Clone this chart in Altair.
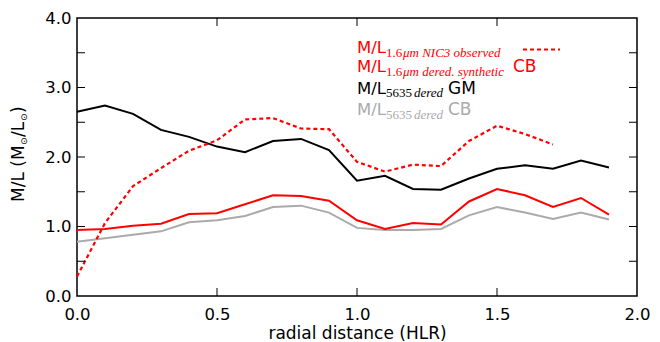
import altair as alt
import pandas as pd

# ---- data ----
radius = [0.0, 0.1, 0.2, 0.3, 0.4, 0.5, 0.6, 0.7, 0.8, 0.9,
          1.0, 1.1, 1.2, 1.3, 1.4, 1.5, 1.6, 1.7, 1.8, 1.9]
ml_5635_gm = [2.65, 2.74, 2.62, 2.39, 2.29, 2.15, 2.07, 2.23, 2.26, 2.10,
              1.66, 1.73, 1.54, 1.53, 1.69, 1.83, 1.88, 1.83, 1.95, 1.85]
ml_16_synth_cb = [0.95, 0.965, 1.01, 1.04, 1.18, 1.19, 1.32, 1.45, 1.44, 1.37,
                  1.09, 0.965, 1.05, 1.03, 1.36, 1.54, 1.45, 1.28, 1.41, 1.17]
ml_5635_cb = [0.78, 0.83, 0.88, 0.93, 1.06, 1.09, 1.15, 1.28, 1.30, 1.20,
              0.98, 0.95, 0.95, 0.965, 1.16, 1.28, 1.20, 1.11, 1.20, 1.10]
radius_nic3 = radius[:18]
ml_nic3_obs = [0.28, 1.05, 1.58, 1.84, 2.09, 2.24, 2.54, 2.56, 2.41, 2.40,
               1.93, 1.79, 1.89, 1.87, 2.23, 2.45, 2.33, 2.18]

x_ticks = [0.0, 0.5, 1.0, 1.5, 2.0]
y_ticks = [0.0, 0.5, 1.0, 1.5, 2.0, 2.5, 3.0, 3.5, 4.0]
x_inner = [0.5, 1.0, 1.5]
y_inner = [0.5, 1.0, 1.5, 2.0, 2.5, 3.0, 3.5]

W, H = 560, 278
FONT = "DejaVu Sans"
SERIF = "Liberation Serif"
RED, BLACK, GRAY = "#ff0000", "#000000", "#aaaaaa"

xs = alt.Scale(domain=[0, 2], nice=False)
ys = alt.Scale(domain=[0, 4], nice=False)

xaxis = alt.Axis(values=x_ticks, format=".1f", title="radial distance (HLR)",
                 grid=False, tickSize=0, domain=False, labelPadding=10,
                 labelFontSize=16.5, labelFont=FONT, labelColor="black",
                 titleFontSize=17, titleFont=FONT, titleFontWeight="normal",
                 titleColor="black", titlePadding=3, labelFlush=False)
yaxis = alt.Axis(values=y_ticks, format=".1f", title="",
                 grid=False, tickSize=0, domain=False, labelPadding=6,
                 labelFontSize=16.5, labelFont=FONT, labelColor="black",
                 labelFlush=False)

df = pd.DataFrame({"r": radius, "gm": ml_5635_gm, "synth": ml_16_synth_cb, "cb": ml_5635_cb})
dn = pd.DataFrame({"r": radius_nic3, "nic3": ml_nic3_obs})

base = alt.Chart(df)
gray_line = base.mark_line(color=GRAY, strokeWidth=2).encode(
    x=alt.X("r:Q", scale=xs, axis=xaxis), y=alt.Y("cb:Q", scale=ys, axis=yaxis))
red_line = base.mark_line(color=RED, strokeWidth=2).encode(
    x=alt.X("r:Q", scale=xs), y=alt.Y("synth:Q", scale=ys))
black_line = base.mark_line(color=BLACK, strokeWidth=2).encode(
    x=alt.X("r:Q", scale=xs), y=alt.Y("gm:Q", scale=ys))
dot_line = alt.Chart(dn).mark_line(color=RED, strokeWidth=2.2, strokeDash=[4, 3]).encode(
    x=alt.X("r:Q", scale=xs), y=alt.Y("nic3:Q", scale=ys))

# inner ticks (matplotlib classic style), on all four sides
tx = pd.DataFrame({"v": x_inner})
ty = pd.DataFrame({"v": y_inner})
tick_b = alt.Chart(tx).mark_rule(color="black", strokeWidth=1).encode(
    x=alt.X("v:Q", scale=xs), y=alt.value(H), y2=alt.value(H - 8))
tick_t = alt.Chart(tx).mark_rule(color="black", strokeWidth=1).encode(
    x=alt.X("v:Q", scale=xs), y=alt.value(0), y2=alt.value(8))
tick_l = alt.Chart(ty).mark_rule(color="black", strokeWidth=1).encode(
    y=alt.Y("v:Q", scale=ys), x=alt.value(0), x2=alt.value(8))
tick_r = alt.Chart(ty).mark_rule(color="black", strokeWidth=1).encode(
    y=alt.Y("v:Q", scale=ys), x=alt.value(W), x2=alt.value(W - 8))


def txt(t, x, y, color, size=16.5, font=FONT, style="normal", angle=0):
    return alt.Chart(pd.DataFrame({"t": [t]})).mark_text(
        align="left", baseline="alphabetic", fontSize=size, font=font,
        fontStyle=style, color=color, angle=angle).encode(
        x=alt.value(x), y=alt.value(y), text="t:N")

# y-axis title with subscript suns, as rotated text pieces
ytitle = [
    txt("M/L (M", -53.5, 184, "black", 17, angle=270),
    txt("⊙", -50.5, 127, "black", 9, angle=270),
    txt("/L", -53.5, 119, "black", 17, angle=270),
    txt("⊙", -50.5, 103, "black", 9, angle=270),
    txt(")", -53.5, 95, "black", 17, angle=270),
]

# legend built from text pieces
legend = [
    txt("M/L", 280, 35, RED),
    txt("1.6", 309, 38.5, RED, 13, SERIF),
    txt("μm NIC3 observed", 326, 38.5, RED, 13, SERIF, "italic"),
    txt("M/L", 280, 54, RED),
    txt("1.6", 309, 57.5, RED, 13, SERIF),
    txt("μm dered. synthetic", 326, 57.5, RED, 13, SERIF, "italic"),
    txt("CB", 436, 54, RED, 17),
    txt("M/L", 280, 75.5, BLACK),
    txt("5635", 309, 79, BLACK, 13, SERIF),
    txt("dered", 337, 79, BLACK, 13, SERIF, "italic"),
    txt("GM", 371, 75.5, BLACK, 17),
    txt("M/L", 280, 97, GRAY),
    txt("5635", 309, 100.5, GRAY, 13, SERIF),
    txt("dered", 337, 100.5, GRAY, 13, SERIF, "italic"),
    txt("CB", 371, 97, GRAY, 17),
]
handle = alt.Chart(pd.DataFrame({"a": [0]})).mark_rule(
    color=RED, strokeWidth=2.2, strokeDash=[4, 3]).encode(
    x=alt.value(446), x2=alt.value(483), y=alt.value(31.5))

chart = alt.layer(
    gray_line, red_line, black_line, dot_line,
    tick_b, tick_t, tick_l, tick_r, handle, *ytitle, *legend
).properties(
    width=W, height=H,
    padding={"left": 77, "top": 18, "right": 23, "bottom": 46},
    autosize=alt.AutoSizeParams(type="none"),
    background="white",
).configure_view(stroke="black", strokeWidth=1.5)

chart.save("out.html", embed_options={"renderer": "svg", "actions": False})
